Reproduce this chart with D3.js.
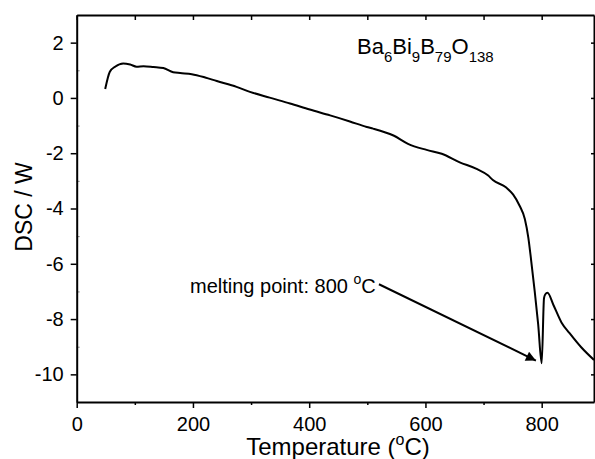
<!DOCTYPE html>
<meta charset="utf-8">
<script src="https://d3js.org/d3.v7.min.js"></script>
<style>
  body { margin: 0; background: #fff; }
  text { font-family: "Liberation Sans", Arial, sans-serif; fill: #000; }
</style>
<div id="chart"></div>
<script>
// DSC trace
const temperature = [49, 57, 66, 80, 92, 103, 115, 132, 149, 166, 178, 198, 221, 241, 275, 298, 332, 367, 401, 436,
  470, 499, 510, 545, 570, 602, 628, 659, 688, 708, 716, 739, 751, 762, 771, 777, 782, 788, 794, 800,
  804, 806, 810, 820, 834, 848, 868, 890];
const dsc = [0.32, 0.95, 1.13, 1.25, 1.21, 1.13, 1.15, 1.12, 1.08, 0.93, 0.90, 0.86, 0.74, 0.61, 0.40, 0.22, 0.01, -0.20, -0.42, -0.63,
  -0.85, -1.05, -1.11, -1.36, -1.66, -1.88, -2.02, -2.33, -2.57, -2.81, -2.97, -3.24, -3.50, -3.90, -4.38, -5.05, -5.90, -7.0, -8.2, -9.6,
  -7.24, -7.11, -7.05, -7.48, -8.12, -8.51, -9.02, -9.48];

const xTicks = [0, 200, 400, 600, 800];
const xMinor = [100, 300, 500, 700];
const yTicks = [-10, -8, -6, -4, -2, 0, 2];
const yMinor = [-9, -7, -5, -3, -1, 1];

// arrow: tail and tip in data units
const arrowFrom = [520, -6.74];
const arrowTo = [790, -9.5];

const W = 595, H = 459;
const margin = {top: 15, right: 1, bottom: 57, left: 76.7};
const width = W - margin.left - margin.right,
      height = H - margin.top - margin.bottom;

const svg = d3.select("#chart").append("svg")
    .attr("width", W).attr("height", H);

const g = svg.append("g")
    .attr("transform", "translate(" + margin.left + "," + margin.top + ")");

const x = d3.scaleLinear().domain([0, 890]).range([0, width]);
const y = d3.scaleLinear().domain([-11, 3]).range([height, 0]);

svg.append("defs").append("clipPath").attr("id", "clip")
  .append("rect").attr("width", width).attr("height", height);

const plain = d => String(d);   // keep ASCII hyphen for negatives

// ---- axes ----
function styleAxis(sel) {
  sel.select(".domain").attr("stroke", "#000").attr("stroke-width", 2);
  sel.selectAll(".tick line").attr("stroke", "#000").attr("stroke-width", 1.5);
}

// bottom
g.append("g").attr("transform", "translate(0," + height + ")")
  .call(d3.axisBottom(x).tickValues(xMinor).tickSize(3).tickFormat("").tickSizeOuter(0))
  .call(styleAxis).select(".domain").remove();
g.append("g").attr("transform", "translate(0," + height + ")")
  .call(d3.axisBottom(x).tickValues(xTicks).tickSize(6).tickPadding(9).tickFormat(plain).tickSizeOuter(0))
  .call(styleAxis)
  .selectAll("text").style("font-size", "20px");

// left
g.append("g")
  .call(d3.axisLeft(y).tickValues(yMinor).tickSize(-3).tickFormat("").tickSizeOuter(0))
  .call(styleAxis)
  .call(s => s.selectAll(".tick line").attr("stroke-width", 1).attr("stroke", "#888"))
  .select(".domain").remove();
g.append("g")
  .call(d3.axisLeft(y).tickValues(yTicks).tickSize(6).tickPadding(7).tickFormat(plain).tickSizeOuter(0))
  .call(styleAxis)
  .selectAll("text").style("font-size", "20px");

// top (ticks inside)
g.append("g")
  .call(d3.axisTop(x).tickValues(xTicks.concat(xMinor)).tickSize(-5).tickFormat("").tickSizeOuter(0))
  .call(styleAxis);

// right (ticks inside)
g.append("g").attr("transform", "translate(" + width + ",0)")
  .call(d3.axisRight(y).tickValues(yTicks).tickSize(-3).tickFormat("").tickSizeOuter(0))
  .call(styleAxis);

// ---- curve ----
const points = temperature.map((t, i) => [t, dsc[i]]);
g.append("path")
  .datum(points)
  .attr("clip-path", "url(#clip)")
  .attr("fill", "none")
  .attr("stroke", "#000")
  .attr("stroke-width", 2)
  .attr("stroke-linejoin", "round")
  .attr("d", d3.line().curve(d3.curveMonotoneX).x(d => x(d[0])).y(d => y(d[1])));

// ---- arrow ----
svg.select("defs").append("marker")
    .attr("id", "head")
    .attr("viewBox", "0 0 10 10")
    .attr("refX", 10).attr("refY", 5)
    .attr("markerWidth", 9).attr("markerHeight", 5)
    .attr("markerUnits", "strokeWidth")
    .attr("orient", "auto")
  .append("path").attr("d", "M0,0 L10,5 L0,10 Z").attr("fill", "#000");

g.append("line")
  .attr("x1", x(arrowFrom[0])).attr("y1", y(arrowFrom[1]))
  .attr("x2", x(arrowTo[0])).attr("y2", y(arrowTo[1]))
  .attr("stroke", "#000").attr("stroke-width", 2)
  .attr("marker-end", "url(#head)");

// ---- texts ----
const melt = svg.append("text")
  .attr("x", 190).attr("y", 293)
  .style("font-size", "20px");
melt.append("tspan").text("melting point: 800 ");
melt.append("tspan").attr("dy", -9).style("font-size", "14px").text("o");
melt.append("tspan").attr("dy", 9).text("C");

const formula = svg.append("text")
  .attr("x", 357).attr("y", 62)
  .style("font-size", "22px");
[["Ba", "6"], ["Bi", "9"], ["B", "79"], ["O", "138"]].forEach(p => {
  formula.append("tspan").attr("dy", formula.selectAll("tspan").size() ? -8 : 0).text(p[0]);
  formula.append("tspan").attr("dy", 8).style("font-size", "15px").text(p[1]);
});

const xl = svg.append("text")
  .attr("x", 338).attr("y", 455)
  .attr("text-anchor", "middle")
  .style("font-size", "24px");
xl.append("tspan").text("Temperature (");
xl.append("tspan").attr("dy", -10).style("font-size", "16px").text("o");
xl.append("tspan").attr("dy", 10).text("C)");

svg.append("text")
  .attr("transform", "translate(32,207) rotate(-90)")
  .attr("text-anchor", "middle")
  .style("font-size", "23px")
  .text("DSC / W");
</script>
